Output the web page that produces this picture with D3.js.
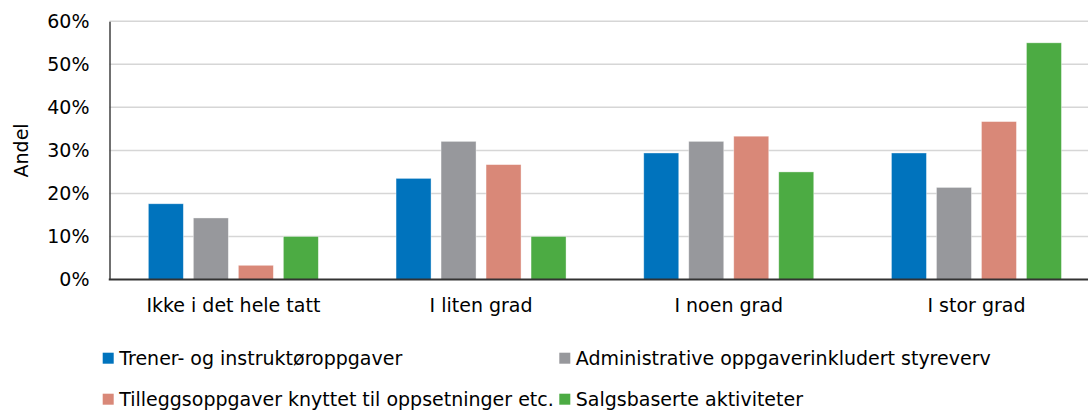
<!DOCTYPE html>
<html>
<head>
<meta charset="utf-8">
<script src="https://cdn.jsdelivr.net/npm/d3@7"></script>
<style>
  body { margin: 0; background: #fff; }
  svg { display: block; font-family: "DejaVu Sans", sans-serif; }
</style>
</head>
<body>
<div id="chart"></div>
<script>
// categories and series (share in %)
const categories = ["Ikke i det hele tatt", "I liten grad", "I noen grad", "I stor grad"];
const seriesNames = [
  "Trener- og instruktøroppgaver",
  "Administrative oppgaverinkludert styreverv",
  "Tilleggsoppgaver knyttet til oppsetninger etc.",
  "Salgsbaserte aktiviteter"
];
const trener = [17.6, 23.5, 29.4, 29.4];
const admin = [14.3, 32.1, 32.1, 21.4];
const tillegg = [3.3, 26.7, 33.3, 36.7];
const salg = [10, 10, 25, 55];
const yTicks = [0, 10, 20, 30, 40, 50, 60];

const series = [trener, admin, tillegg, salg];
const colors = ["#0073BD", "#97989C", "#D98878", "#4CAB43"];

const W = 1088, H = 410;
const plotLeft = 109.5, plotRight = 1100.3, plotTop = 21.3, plotBottom = 279.5;
const fs = 19;

const svg = d3.select("#chart").append("svg")
  .attr("width", W)
  .attr("height", H);

const x0 = d3.scaleBand()
  .domain(categories)
  .range([plotLeft, plotRight])
  .padding(0);

const groupW = 170;
const x1 = d3.scaleBand()
  .domain(d3.range(series.length))
  .range([0, groupW])
  .paddingInner(10 / 45)
  .paddingOuter(0);

const y = d3.scaleLinear()
  .domain([0, 60])
  .range([plotBottom, plotTop]);

// gridlines
svg.append("g")
  .selectAll("line")
  .data(yTicks.filter(t => t > 0))
  .join("line")
  .attr("x1", plotLeft)
  .attr("x2", plotRight)
  .attr("y1", d => y(d))
  .attr("y2", d => y(d))
  .attr("stroke", "#D6D6D6")
  .attr("stroke-width", 1.5);

// bars
categories.forEach((cat, ci) => {
  const gx = x0(cat) + (x0.bandwidth() - groupW) / 2;
  svg.append("g")
    .selectAll("rect")
    .data(series.map((s, si) => ({ si, v: s[ci] })))
    .join("rect")
    .attr("x", d => gx + x1(d.si))
    .attr("y", d => y(d.v))
    .attr("width", x1.bandwidth())
    .attr("height", d => y(0) - y(d.v))
    .attr("fill", d => colors[d.si])
    .attr("stroke", "#fff")
    .attr("stroke-opacity", 0.5)
    .attr("stroke-width", 0.75);
});

// y axis
const yAxis = svg.append("g")
  .attr("transform", `translate(${plotLeft},0)`)
  .call(d3.axisLeft(y).tickValues(yTicks).tickSize(0).tickPadding(20).tickFormat(d => d + "%"));
yAxis.select(".domain").attr("stroke", "#404040").attr("stroke-width", 1.5);
yAxis.selectAll("text")
  .attr("font-size", fs)
  .attr("font-family", "DejaVu Sans")
  .attr("fill", "#000");

// baseline
svg.append("line")
  .attr("x1", plotLeft - 0.75)
  .attr("x2", plotRight)
  .attr("y1", y(0))
  .attr("y2", y(0))
  .attr("stroke", "#333")
  .attr("stroke-width", 1.8);

// x axis labels
const xAxis = svg.append("g")
  .attr("transform", `translate(0,${plotBottom})`)
  .call(d3.axisBottom(x0).tickSize(0).tickPadding(19));
xAxis.select(".domain").remove();
xAxis.selectAll("text")
  .attr("font-size", fs)
  .attr("font-family", "DejaVu Sans")
  .attr("fill", "#000");

// y label
svg.append("text")
  .attr("transform", `translate(28,${(plotTop + plotBottom) / 2}) rotate(-90)`)
  .attr("text-anchor", "middle")
  .attr("font-size", fs)
  .attr("fill", "#000")
  .text("Andel");

// legend
const legendPos = [[102.7, 365], [559.3, 365], [102.7, 406], [559.3, 406]];
const legend = svg.append("g")
  .selectAll("g")
  .data(seriesNames)
  .join("g")
  .attr("transform", (d, i) => `translate(${legendPos[i][0]},${legendPos[i][1]})`);
legend.append("rect")
  .attr("x", 0)
  .attr("y", -12.3)
  .attr("width", 11)
  .attr("height", 11)
  .attr("fill", (d, i) => colors[i]);
legend.append("text")
  .attr("x", 16.5)
  .attr("y", 0)
  .attr("font-size", fs)
  .attr("fill", "#000")
  .text(d => d);
</script>
</body>
</html>
